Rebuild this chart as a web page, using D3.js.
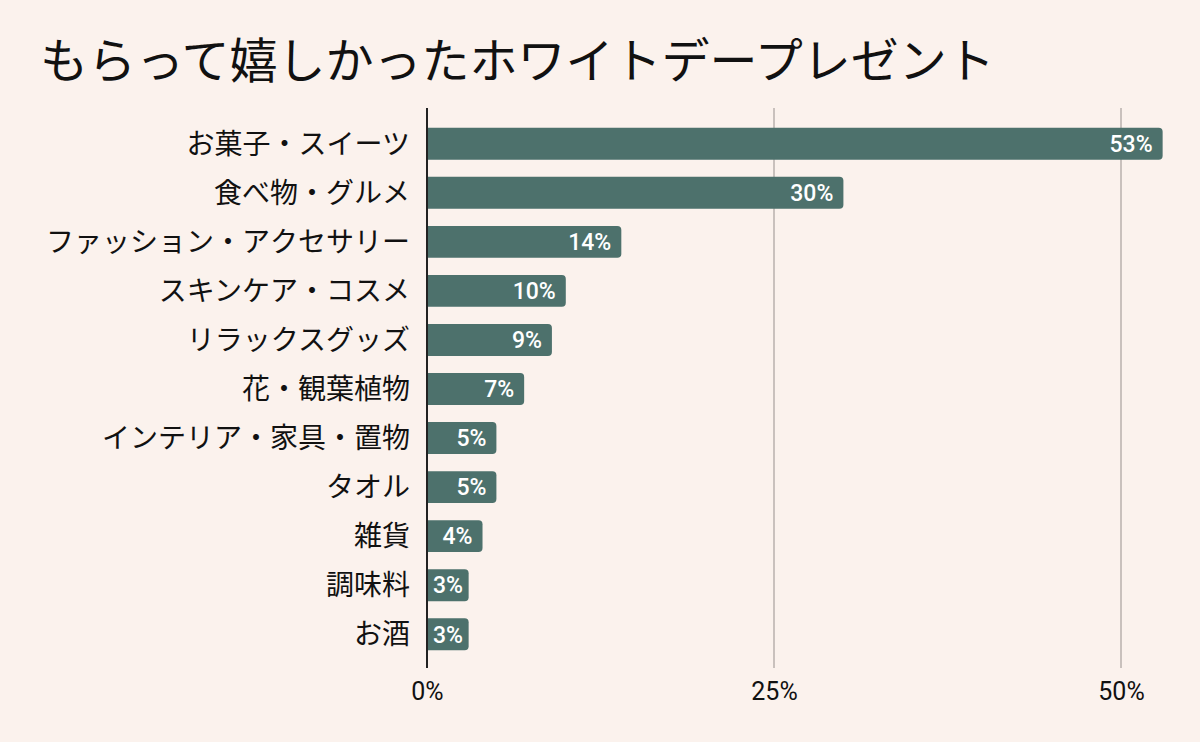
<!DOCTYPE html>
<html><head><meta charset="utf-8">
<script src="https://cdn.jsdelivr.net/npm/d3@7"></script>
<style>
html,body{margin:0;padding:0;background:#fbf2ed;}
svg{display:block;font-family:Roboto,"Noto Sans CJK JP",sans-serif;}
</style></head>
<body>
<svg id="c" width="1200" height="742"></svg>
<script>
const title = "もらって嬉しかったホワイトデープレゼント";
const categories = ["お菓子・スイーツ","食べ物・グルメ","ファッション・アクセサリー","スキンケア・コスメ","リラックスグッズ","花・観葉植物","インテリア・家具・置物","タオル","雑貨","調味料","お酒"];
const values = [53,30,14,10,9,7,5,5,4,3,3];
const ticks = [0,25,50];

const svg = d3.select("#c");
svg.append("rect").attr("width",1200).attr("height",742).attr("fill","#fbf2ed");

const x = d3.scaleLinear().domain([0,50]).range([427,1121]);
const y = d3.scaleBand().domain(categories).range([118,660]).paddingInner(0.35).paddingOuter(0.2);

svg.append("text").attr("x",40).attr("y",78).attr("font-size",48)
  .attr("font-family","'Noto Sans CJK JP',sans-serif").attr("fill","#111").text(title);

// grid lines
svg.append("g").selectAll("line").data(ticks.filter(t=>t>0)).join("line")
  .attr("x1",d=>x(d)).attr("x2",d=>x(d)).attr("y1",108).attr("y2",668)
  .attr("stroke","#c9c1bd").attr("stroke-width",2);

// bars: square left, rounded right
const r = 4;
svg.append("g").selectAll("path").data(values).join("path")
  .attr("fill","#4d716c")
  .attr("d",(d,i)=>{
    const x0 = x(0), x1 = x(d), y0 = y(categories[i]), h = y.bandwidth();
    return `M${x0},${y0}H${x1-r}Q${x1},${y0} ${x1},${y0+r}V${y0+h-r}Q${x1},${y0+h} ${x1-r},${y0+h}H${x0}Z`;
  });

// value labels
const vl = svg.append("g").selectAll("text").data(values).join("text")
  .attr("x",d=>x(d)-10).attr("y",(d,i)=>y(categories[i])+y.bandwidth()/2)
  .attr("dy","0.36em").attr("text-anchor","end").attr("fill","#fff")
  .attr("font-size",23).attr("font-weight",500).text(d=>d+"%");
vl.each(function(d){
  const w = this.getComputedTextLength();
  if (x(d) - 10 - w < x(0) + 5) {
    d3.select(this).attr("text-anchor","start").attr("x", x(0) + 6);
  }
});

// zero axis line
svg.append("line").attr("x1",x(0)).attr("x2",x(0)).attr("y1",108).attr("y2",668)
  .attr("stroke","#222").attr("stroke-width",2);

// category labels
svg.append("g").selectAll("text").data(categories).join("text")
  .attr("x",410).attr("y",d=>y(d)+y.bandwidth()/2).attr("dy","0.36em")
  .attr("text-anchor","end").attr("font-size",28)
  .attr("font-family","'Noto Sans CJK JP',sans-serif").attr("fill","#111").text(d=>d);

// tick labels
const ax = d3.axisBottom(x).tickValues(ticks).tickFormat(d=>d+"%").tickSize(0).tickPadding(0);
const g = svg.append("g").attr("transform","translate(0,700)").call(ax);
g.select(".domain").remove();
g.selectAll("text").attr("font-size",25).attr("fill","#111").attr("font-family","Roboto,sans-serif").attr("dy","0");
</script>
</body></html>
